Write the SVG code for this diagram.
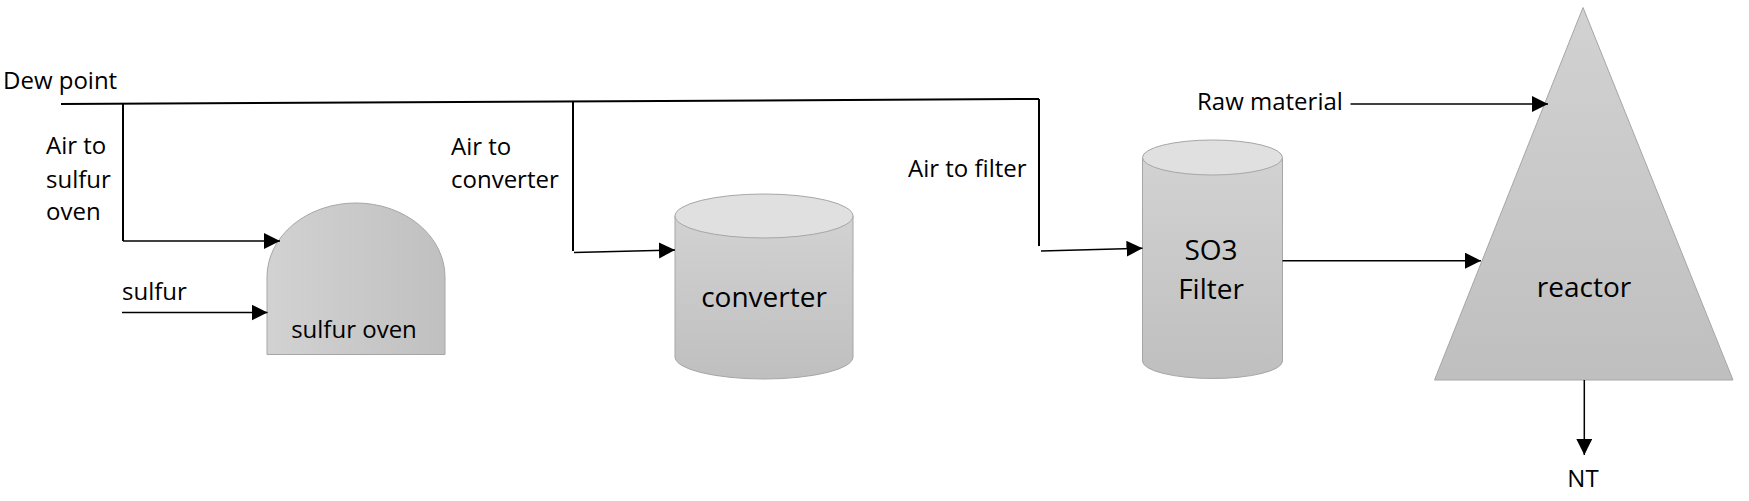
<svg xmlns="http://www.w3.org/2000/svg" width="1749" height="501" viewBox="0 0 1749 501">
<style>
text{font-family:"Open Sans","Liberation Sans",sans-serif;fill:#000}
.s{font-size:24px}
.b{font-size:28px}
.shape{stroke:#a6a6a6;stroke-width:1}
.ln{fill:none;stroke:#000;stroke-width:2}
.ar{fill:none;stroke:#000;stroke-width:1.5}
</style>
<defs>
<marker id="ah" markerUnits="userSpaceOnUse" markerWidth="17" markerHeight="17" refX="16" refY="8" orient="auto">
<path d="M0,0 L16,8 L0,16 z" fill="#000"/>
</marker>
<linearGradient id="gh" x1="0" y1="0" x2="1" y2="0">
<stop offset="0" stop-color="#d2d2d2"/><stop offset="1" stop-color="#c0c0c0"/>
</linearGradient>
<linearGradient id="gv" x1="0" y1="0" x2="0" y2="1">
<stop offset="0" stop-color="#d2d2d2"/><stop offset="1" stop-color="#bfbfbf"/>
</linearGradient>
</defs>

<g id="labels">
<text class="s" x="3" y="89">Dew point</text>
<text class="s" x="46" y="154">Air to</text>
<text class="s" x="46" y="188">sulfur</text>
<text class="s" x="46" y="220">oven</text>
<text class="s" x="122" y="300">sulfur</text>
<text class="s" x="451" y="155">Air to</text>
<text class="s" x="451" y="188">converter</text>
<text class="s" x="908" y="177">Air to filter</text>
<text class="s" x="1197" y="110">Raw material</text>
<text class="s" x="1583" y="487" text-anchor="middle">NT</text>
</g>

<g id="sulfur-oven">
<path class="shape" fill="url(#gh)" d="M267,354.5 L267,277 A89,74 0 0 1 445,277 L445,354.5 Z"/>
<text class="s" x="354" y="338" text-anchor="middle">sulfur oven</text>
</g>

<g id="converter">
<path class="shape" fill="url(#gv)" d="M675,216 L675,357 A89,22 0 0 0 853,357 L853,216 Z"/>
<ellipse class="shape" cx="764" cy="216" rx="89" ry="22" fill="#e0e0e0"/>
<text class="b" x="764" y="307" text-anchor="middle">converter</text>
</g>

<g id="so3-filter">
<path class="shape" fill="url(#gv)" d="M1142.5,157.5 L1142.5,361 A70,17.5 0 0 0 1282.5,361 L1282.5,157.5 Z"/>
<ellipse class="shape" cx="1212.5" cy="157.5" rx="70" ry="17.5" fill="#e0e0e0"/>
<text class="b" x="1211" y="260" text-anchor="middle">SO3</text>
<text class="b" x="1211" y="299" text-anchor="middle">Filter</text>
</g>

<g id="reactor">
<polygon class="shape" fill="url(#gv)" points="1583,7.5 1733,380 1434.5,380"/>
<text class="b" x="1584" y="297" text-anchor="middle">reactor</text>
</g>

<g id="connectors">
<path class="ln" stroke-width="3" d="M61,104 L1039,99"/>
<path class="ln" d="M1039,99 L1039,246"/>
<path class="ln" d="M123,104 L123,241"/>
<path class="ln" d="M573,102 L573,251"/>
<path class="ar" d="M123,241 L280,241" marker-end="url(#ah)"/>
<path class="ar" d="M122,312.5 L267.5,312.5" marker-end="url(#ah)"/>
<path class="ar" d="M574,252.5 L675,250" marker-end="url(#ah)"/>
<path class="ar" d="M1041,251 L1142.5,248.3" marker-end="url(#ah)"/>
<path class="ar" d="M1282.5,260.7 L1481,260.7" marker-end="url(#ah)"/>
<path class="ar" d="M1350.5,104 L1548,104" marker-end="url(#ah)"/>
<path class="ar" d="M1584.3,380 L1584.3,455" marker-end="url(#ah)"/>
</g>
</svg>
